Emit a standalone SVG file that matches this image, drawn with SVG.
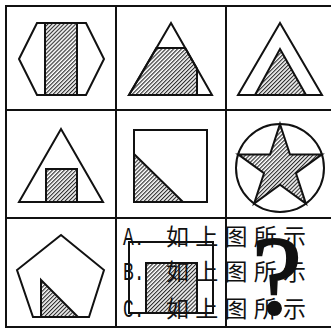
<svg xmlns="http://www.w3.org/2000/svg" width="331" height="328" viewBox="0 0 331 328">
<defs>
<pattern id="hatch" patternUnits="userSpaceOnUse" width="2.8" height="2.8" patternTransform="rotate(45)">
<rect width="2.8" height="2.8" fill="#fff"/>
<line x1="0.6" y1="0" x2="0.6" y2="2.8" stroke="#222" stroke-width="1.1"/>
</pattern>
<style>
.s{fill:none;stroke:#111;stroke-width:2;stroke-linejoin:miter}
.h{fill:url(#hatch);stroke:#111;stroke-width:2}
.g{stroke:#111;stroke-width:2;fill:none}
.t{font-family:"Liberation Mono","Noto Sans CJK SC",monospace;font-size:25px;fill:#111}
.c{font-family:"Noto Sans CJK SC",sans-serif;font-size:23px;fill:#111}
</style>
</defs>
<rect width="331" height="328" fill="#fff"/>
<g id="grid">
<rect class="g" x="6" y="6" width="332" height="321"/>
<line class="g" x1="116" y1="6" x2="116" y2="327"/>
<line class="g" x1="226" y1="6" x2="226" y2="327"/>
<line class="g" x1="6" y1="110" x2="338" y2="110"/>
<line class="g" x1="6" y1="218" x2="338" y2="218"/>
</g>
<g id="cell1">
<rect class="h" x="45" y="23" width="32" height="72"/>
<polygon class="s" points="19,59 37,23 86,23 104,59 86,95 37,95"/>
</g>
<g id="cell2">
<polygon class="h" points="156.4,48 185.2,48 197,68.7 197,95 129,95"/>
<polygon class="s" points="171,23 212,95 129,95"/>
</g>
<g id="cell3">
<polygon class="s" points="280,23 322,95 238,95"/>
<polygon class="h" points="280,49 306,95 255,95"/>
</g>
<g id="cell4">
<rect class="h" x="46" y="169" width="31" height="33"/>
<polygon class="s" points="61,129 103,202 19,202"/>
</g>
<g id="cell5">
<polygon class="h" points="134,154 183,202 134,202"/>
<rect class="s" x="134" y="130" width="73" height="72"/>
</g>
<g id="cell6">
<circle class="s" cx="280" cy="168" r="44"/>
<polygon class="h" points="280,124 289.9,154.4 321.8,154.4 296,173.2 305.9,203.6 280,184.8 254.1,203.6 264,173.2 238.2,154.4 270.1,154.4"/>
</g>
<g id="cell7">
<polygon class="h" points="41,280 78,317 41,317"/>
<polygon class="s" points="61,235 104,270 89,317 33,317 17,270"/>
</g>
<g id="cell8">
<rect class="s" x="129" y="242" width="84" height="71"/>
<rect class="h" x="146" y="263" width="51" height="50"/>
</g>
<g id="cell9">
<text x="252" y="313" font-family="Liberation Serif,serif" font-size="112" fill="#111" stroke="#111" stroke-width="2">?</text>
</g>
<g id="options">
<text class="t" transform="translate(123,245) scale(0.72,1)">A.</text>
<text class="c" x="166" y="245" textLength="140" lengthAdjust="spacing">如上图所示</text>
<text class="t" transform="translate(123,280) scale(0.72,1)">B.</text>
<text class="c" x="166" y="280" textLength="140" lengthAdjust="spacing">如上图所示</text>
<text class="t" transform="translate(123,317) scale(0.72,1)">C.</text>
<text class="c" x="166" y="317" textLength="140" lengthAdjust="spacing">如上图所示</text>
</g>
</svg>
